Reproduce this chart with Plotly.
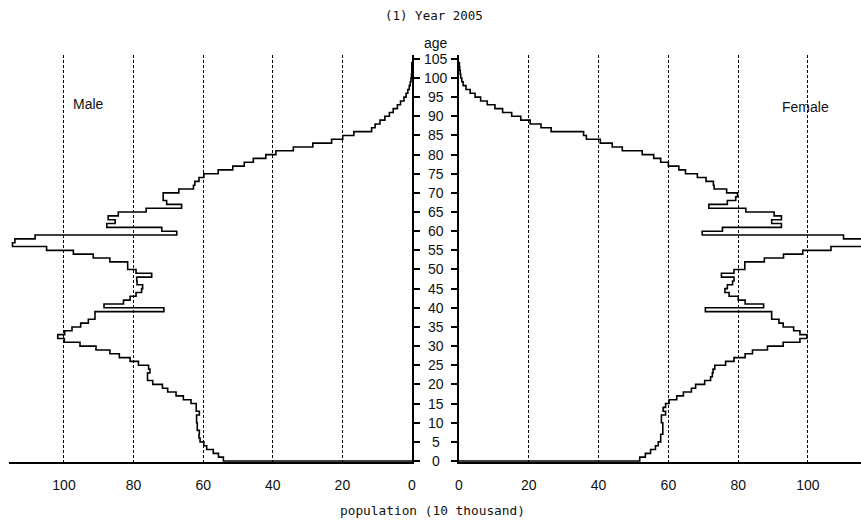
import plotly.graph_objects as go

# Population of Japan by single year of age, 2005 (unit: 10 thousand persons)
ages = list(range(0, 104))

male = [
    54.2, 55.6, 57.1, 59.0, 59.8, 60.9, 61.2, 61.1, 61.7, 61.7,
    61.9, 61.9, 61.1, 62.0, 62.0, 63.5, 65.7, 67.8, 70.2, 71.7,
    74.5, 76.0, 76.0, 75.3, 75.7, 78.6, 81.0, 84.1, 86.8, 90.8,
    95.4, 99.9, 101.8, 99.8, 97.7, 95.2, 93.0, 91.1, 91.1, 71.3,
    88.5, 82.9, 81.0, 79.3, 77.7, 77.4, 79.0, 79.1, 74.8, 79.3,
    81.7, 81.7, 86.8, 91.6, 97.3, 105.0, 114.8, 114.1, 108.3, 67.6,
    71.9, 87.7, 85.3, 87.3, 84.4, 76.4, 66.2, 70.5, 71.5, 71.5,
    67.0, 62.8, 62.4, 61.2, 59.8, 55.7, 51.5, 48.2, 45.6, 42.0,
    39.1, 34.1, 28.5, 23.1, 19.9, 16.7, 11.6, 10.6, 9.2, 7.8,
    6.5, 5.4, 4.2, 3.3, 2.3, 1.7, 1.2, 0.8, 0.5, 0.3,
    0.15, 0.05, 0.05, 0.05,
]

female = [
    51.8, 53.4, 54.9, 56.3, 57.1, 57.8, 57.8, 58.4, 58.4, 58.4,
    58.0, 58.0, 59.2, 58.5, 59.2, 60.2, 62.4, 64.3, 66.6, 67.8,
    70.4, 72.1, 72.6, 72.8, 73.3, 76.4, 78.8, 82.0, 84.1, 88.4,
    92.9, 97.7, 99.7, 97.7, 95.9, 92.9, 91.7, 89.6, 89.6, 70.6,
    87.3, 82.0, 80.0, 77.4, 76.2, 76.9, 78.4, 78.8, 75.2, 78.8,
    81.9, 81.9, 87.5, 93.0, 98.5, 106.6, 117.5, 116.5, 110.2, 69.7,
    75.5, 92.4, 89.6, 92.4, 90.3, 82.2, 71.6, 76.9, 79.3, 79.8,
    76.7, 73.1, 72.9, 70.8, 68.3, 64.9, 63.0, 60.0, 57.8, 55.8,
    52.5, 46.8, 43.9, 40.5, 36.5, 35.7, 26.4, 23.5, 20.4, 17.7,
    15.1, 12.5, 10.3, 8.1, 6.2, 4.6, 3.2, 2.0, 1.2, 0.8,
    0.5, 0.35, 0.2, 0.1,
]

x_ticks = [0, 20, 40, 60, 80, 100]
age_ticks = list(range(0, 106, 5))

X_MAX_LEFT = 115.8
X_MAX_RIGHT = 115.2
Y_RANGE = [-0.26, 106.0]

W, H = 861, 525
TOP, BOTTOM = 55, 63
PLOT_H = H - TOP - BOTTOM


def px_to_paper_y(p):
    return (H - BOTTOM - p) / PLOT_H


def step_path(values):
    # each age occupies the band [age, age+1]; start and end on the age axis
    xs = [0.0] + list(values) + [0.0]
    ys = [0] + ages + [ages[-1] + 1]
    return xs, ys


fig = go.Figure()

mx, my = step_path(male)
fx, fy = step_path(female)

fig.add_trace(go.Scatter(x=mx, y=my, mode="lines", line=dict(color="black", width=1.6, shape="vh"),
                         xaxis="x", yaxis="y", showlegend=False, hoverinfo="skip"))
fig.add_trace(go.Scatter(x=fx, y=fy, mode="lines", line=dict(color="black", width=1.6, shape="vh"),
                         xaxis="x2", yaxis="y2", showlegend=False, hoverinfo="skip"))

xaxis_common = dict(
    tickmode="array", tickvals=x_ticks, ticktext=[str(v) for v in x_ticks],
    showgrid=True, gridcolor="black", gridwidth=1, griddash="3px,2px",
    zeroline=False, showline=True, linecolor="black", linewidth=2,
    ticks="", ticklabelstandoff=9, automargin=False,
    tickfont=dict(family="Liberation Sans, Arial, sans-serif", size=14, color="#111"),
    fixedrange=True,
)
yaxis_common = dict(
    range=Y_RANGE, tickmode="array", tickvals=age_ticks, showticklabels=False,
    ticks="outside", ticklen=6, tickwidth=1.5, tickcolor="black",
    showgrid=False, zeroline=False, showline=True, linecolor="black", linewidth=2,
    automargin=False, fixedrange=True,
)

fig.update_layout(
    width=W, height=H, autosize=False,
    margin=dict(l=0, r=0, t=TOP, b=BOTTOM, pad=0),
    paper_bgcolor="white", plot_bgcolor="white",
    xaxis=dict(domain=[9 / W, 412 / W], range=[X_MAX_LEFT, 0], anchor="y", **xaxis_common),
    xaxis2=dict(domain=[459 / W, 1.0], range=[0, X_MAX_RIGHT], anchor="y2", **xaxis_common),
    yaxis=dict(anchor="x", side="right", **yaxis_common),
    yaxis2=dict(anchor="x2", side="left", **yaxis_common),
)

annotations = []
# age labels centred between the two panels
for a in age_ticks:
    annotations.append(dict(
        x=436 / W, xref="paper", y=a, yref="y", text=str(a), showarrow=False,
        xanchor="center", yanchor="middle",
        font=dict(family="Liberation Sans, Arial, sans-serif", size=14, color="#111"),
    ))
annotations += [
    dict(x=436 / W, xref="paper", y=px_to_paper_y(43), yref="paper", text="age",
         showarrow=False, xanchor="center", yanchor="middle",
         font=dict(family="Liberation Sans, Arial, sans-serif", size=14, color="#111")),
    dict(x=434 / W, xref="paper", y=px_to_paper_y(16), yref="paper", text="(1) Year 2005",
         showarrow=False, xanchor="center", yanchor="middle",
         font=dict(family="DejaVu Sans Mono, monospace", size=12.5, color="#111")),
    dict(x=432 / W, xref="paper", y=px_to_paper_y(510), yref="paper", text="population (10 thousand)",
         showarrow=False, xanchor="center", yanchor="middle",
         font=dict(family="DejaVu Sans Mono, monospace", size=12.8, color="#111")),
    dict(x=88 / W, xref="paper", y=px_to_paper_y(104), yref="paper", text="Male", showarrow=False,
         xanchor="center", yanchor="middle",
         font=dict(family="Liberation Sans, Arial, sans-serif", size=14, color="#111")),
    dict(x=805 / W, xref="paper", y=px_to_paper_y(107), yref="paper", text="Female", showarrow=False,
         xanchor="center", yanchor="middle",
         font=dict(family="Liberation Sans, Arial, sans-serif", size=14, color="#111")),
]
fig.update_layout(annotations=annotations)

fig.write_html("out.html", config={"displayModeBar": False})
